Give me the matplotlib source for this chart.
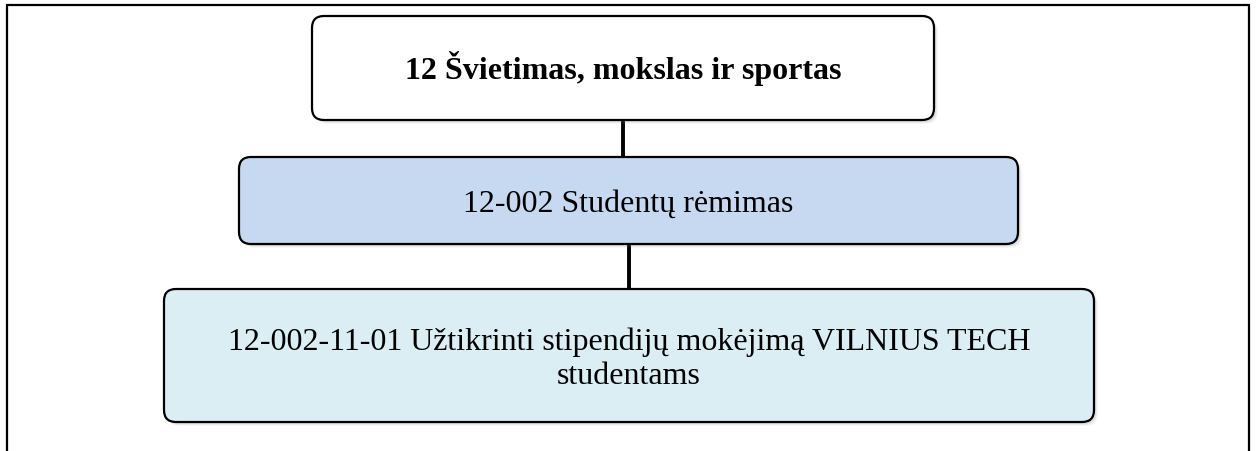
import matplotlib
matplotlib.use("Agg")
import matplotlib.pyplot as plt
from matplotlib.patches import FancyBboxPatch

# ── Diagram content ───────────────────────────────────────────────────────────
labels = [
    ["12 Švietimas, mokslas ir sportas"],
    ["12-002 Studentų rėmimas"],
    ["12-002-11-01 Užtikrinti stipendijų mokėjimą VILNIUS TECH", "studentams"],
]
weights = ["bold", "normal", "normal"]
fills = ["#ffffff", "#c6d9f1", "#daeef3"]

# box geometry in pixels (x0, y0, x1, y1), y down
boxes = [(312, 17, 934, 121), (239, 158, 1018, 245), (164, 290, 1094, 423)]
baselines = [[79], [212], [350, 384]]
connectors = [(623, 121, 158), (629, 245, 290)]

W, H = 1256, 452
fig = plt.figure(figsize=(W / 100, H / 100), dpi=100)
ax = fig.add_axes([0, 0, 1, 1])
ax.set_xlim(0, W)
ax.set_ylim(H, 0)
ax.set_axis_off()

# outer frame (open at bottom)
ax.plot([7, 7, 1249, 1249], [H + 5, 6, 6, H + 5], color="black", lw=1.6,
        solid_joinstyle="miter", zorder=1)

# connectors
for x, y0, y1 in connectors:
    ax.plot([x, x], [y0, y1], color="black", lw=2.8, zorder=2, solid_capstyle="butt")

for (x0, y0, x1, y1), lines, base, fw, fc in zip(boxes, labels, baselines, weights, fills):
    w, h = x1 - x0, y1 - y0
    # soft shadow
    for off, a in [(4, 0.06), (3, 0.10), (2, 0.14)]:
        sh = FancyBboxPatch((x0 + off, y0 + off), w, h,
                            boxstyle="round,pad=0,rounding_size=12",
                            fc="#808080", ec="none", alpha=a, zorder=3)
        ax.add_patch(sh)
    box = FancyBboxPatch((x0, y0), w, h, boxstyle="round,pad=0,rounding_size=12",
                         fc=fc, ec="black", lw=1.6, zorder=4)
    ax.add_patch(box)

    cx = (x0 + x1) / 2
    for line, by in zip(lines, base):
        ax.text(cx, by, line, ha="center", va="baseline", fontsize=23,
                fontweight=fw, family="Liberation Serif", zorder=5)

fig.savefig("out.png", dpi=100, facecolor="white")
